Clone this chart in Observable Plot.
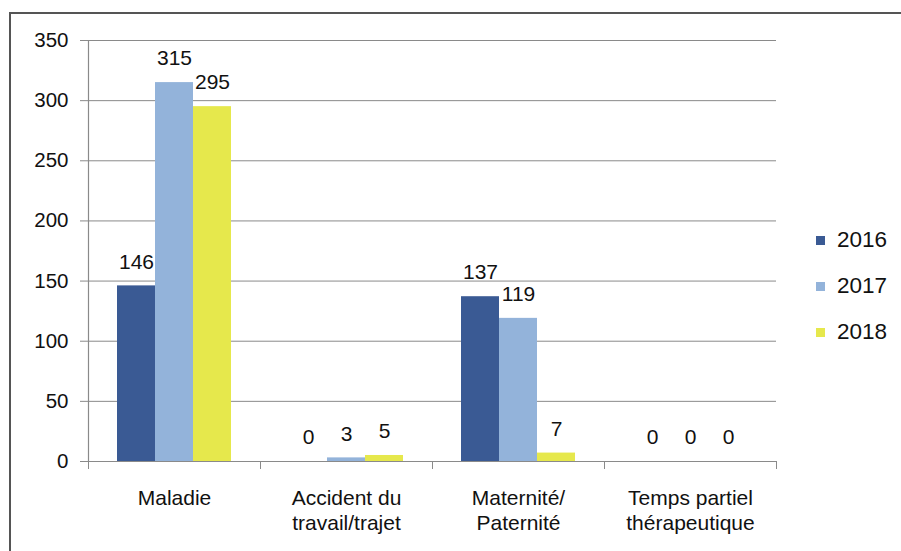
<!DOCTYPE html>
<html>
<head>
<meta charset="utf-8">
<script src="https://cdn.jsdelivr.net/npm/d3@7"></script>
<script src="https://cdn.jsdelivr.net/npm/@observablehq/plot@0.6"></script>
<style>
  html, body { margin: 0; padding: 0; background: #fff; }
  #wrap { position: relative; width: 901px; height: 551px; overflow: hidden; font-family: "Liberation Sans", Arial, sans-serif; }
  #border { position: absolute; left: 9px; top: 12px; width: 900px; height: 560px; border-top: 2px solid #555; border-left: 2px solid #555; pointer-events: none; }
  #legend { position: absolute; left: 816px; top: 217px; font-size: 22.5px; color: #111; }
  #legend .row { display: flex; align-items: center; height: 46px; }
  #legend .sw { width: 9px; height: 9px; margin-right: 12px; }
</style>
</head>
<body>
<div id="wrap">
  <div id="chart"></div>
  <div id="legend"></div>
  <div id="border"></div>
</div>
<script>
// ---- data ----
const categories = ["Maladie", "Accident du\ntravail/trajet", "Maternité/\nPaternité", "Temps partiel\nthérapeutique"];
const years = ["2016", "2017", "2018"];
const values2016 = [146, 0, 137, 0];
const values2017 = [315, 3, 119, 0];
const values2018 = [295, 5, 7, 0];
const yTicks = [0, 50, 100, 150, 200, 250, 300, 350];
const colors = ["#3a5a94", "#93b3da", "#e6e84c"];

const series = [values2016, values2017, values2018];
const data = [];
categories.forEach((c, i) => {
  years.forEach((y, j) => data.push({category: c, year: y, value: series[j][i]}));
});

const font = "\"Liberation Sans\", Arial, sans-serif";

const plot = Plot.plot({
  width: 901,
  height: 551,
  marginLeft: 88,
  marginRight: 125,
  marginTop: 40,
  marginBottom: 90,
  style: {fontFamily: font, color: "#111", background: "transparent"},
  fx: {domain: categories, padding: 0},
  x: {domain: years, paddingInner: 0, paddingOuter: 0.76, axis: null},
  y: {domain: [0, 350]},
  color: {domain: years, range: colors},
  marks: [
    Plot.gridY(yTicks, {stroke: "#8a8a8a", strokeOpacity: 1, strokeWidth: 1}),
    Plot.barY(data, {fx: "category", x: "year", y: "value", fill: "year"}),
    Plot.ruleY([0], {stroke: "#8a8a8a", strokeWidth: 1.2}),
    Plot.frame({anchor: "left", facetAnchor: "left", stroke: "#8a8a8a", strokeWidth: 1.2}),
    Plot.frame({anchor: "left", stroke: "#8a8a8a", insetTop: 421, insetBottom: -7}),
    Plot.frame({anchor: "right", stroke: "#8a8a8a", insetTop: 421, insetBottom: -7}),
    Plot.axisY(yTicks, {tickSize: 8, tickPadding: 12, fontSize: 20.5, stroke: "#8a8a8a", tickFormat: d => d, label: null}),
    Plot.axisFx({anchor: "bottom", tickSize: 0, tickPadding: 25, fontSize: 21, lineHeight: 1.22, label: null}),
    Plot.text(data, {fx: "category", x: "year", y: "value", text: d => String(d.value), dy: -24, fontSize: 21, fill: "#111"})
  ]
});
document.getElementById("chart").appendChild(plot);

const legend = document.getElementById("legend");
years.forEach((y, i) => {
  const row = document.createElement("div");
  row.className = "row";
  const sw = document.createElement("div");
  sw.className = "sw";
  sw.style.background = colors[i];
  const t = document.createElement("span");
  t.textContent = y;
  row.appendChild(sw);
  row.appendChild(t);
  legend.appendChild(row);
});
</script>
</body>
</html>
